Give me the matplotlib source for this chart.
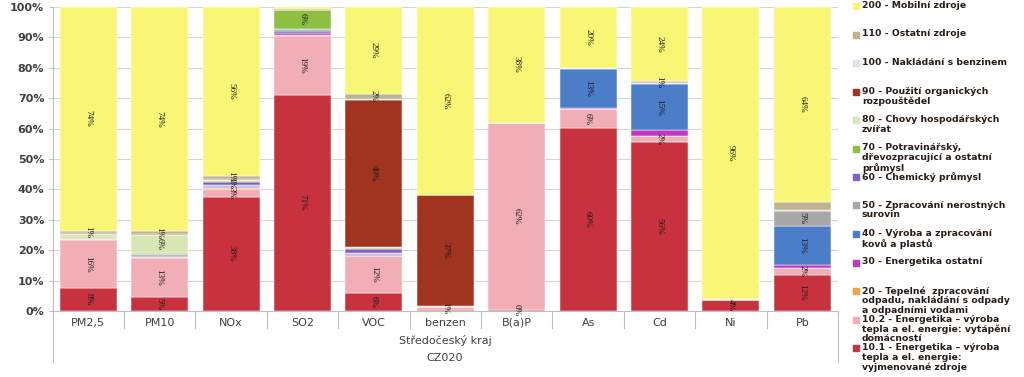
import numpy as np
import matplotlib
matplotlib.use("Agg")
import matplotlib.pyplot as plt
from matplotlib.lines import Line2D
from matplotlib.patches import Rectangle
import matplotlib.transforms as mtransforms

categories = ["PM2,5", "PM10", "NOx", "SO2", "VOC", "benzen", "B(a)P", "As", "Cd", "Ni", "Pb"]

series_names = [
    "10.1 - Energetika – výroba\ntepla a el. energie:\nvyjmenované zdroje",
    "10.2 - Energetika – výroba\ntepla a el. energie: vytápění\ndomácností",
    "20 - Tepelné  zpracování\nodpadu, nakládání s odpady\na odpadními vodami",
    "30 - Energetika ostatní",
    "40 - Výroba a zpracování\nkovů a plastů",
    "50 - Zpracování nerostných\nsurovin",
    "60 - Chemický průmysl",
    "70 - Potravinářský,\ndřevozpracující a ostatní\nprůmysl",
    "80 - Chovy hospodářských\nzvířat",
    "90 - Použití organických\nrozpouštědel",
    "100 - Nakládání s benzinem",
    "110 - Ostatní zdroje",
    "200 - Mobilní zdroje",
]

s_10_1 = [7.6, 4.6, 37.6, 71.2, 6.0, 0.3, 0.3, 60.2, 55.7, 3.6, 12.0]
s_10_2 = [15.8, 13.0, 2.6, 19.4, 12.0, 1.0, 61.5, 6.2, 1.8, 0.1, 2.0]
s_20 = [0.2, 0.2, 0.2, 0.1, 0.2, 0.0, 0.0, 0.1, 0.1, 0.0, 0.1]
s_30 = [0.1, 0.1, 0.5, 0.8, 0.2, 0.1, 0.0, 0.3, 1.8, 0.0, 1.0]
s_40 = [0.1, 0.2, 0.3, 0.7, 0.5, 0.1, 0.0, 12.9, 15.4, 0.1, 12.9]
s_50 = [0.3, 0.6, 0.3, 0.4, 0.3, 0.0, 0.0, 0.1, 0.2, 0.0, 5.0]
s_60 = [0.1, 0.1, 0.8, 0.3, 1.3, 0.0, 0.0, 0.0, 0.0, 0.0, 0.1]
s_70 = [0.2, 0.2, 0.3, 6.0, 0.3, 0.0, 0.1, 0.0, 0.1, 0.0, 0.1]
s_80 = [0.8, 6.0, 0.5, 0.1, 0.2, 0.0, 0.0, 0.0, 0.0, 0.0, 0.0]
s_90 = [0.5, 0.3, 0.3, 0.2, 48.5, 36.6, 0.1, 0.1, 0.1, 0.0, 0.1]
s_100 = [0.1, 0.1, 0.1, 0.0, 0.3, 0.0, 0.0, 0.0, 0.0, 0.0, 0.0]
s_110 = [0.6, 0.8, 1.0, 0.3, 1.6, 0.0, 0.0, 0.0, 0.5, 0.0, 2.7]
s_200 = [73.7, 73.9, 55.5, 0.5, 28.6, 61.9, 38.0, 20.1, 24.3, 96.2, 64.0]

series_values = [s_10_1, s_10_2, s_20, s_30, s_40, s_50, s_60, s_70, s_80, s_90, s_100, s_110, s_200]

colors = ["#C8323F", "#F1AEB6", "#F4A444", "#C236C2", "#4B7DC8", "#A7A7A7", "#7B62C4",
          "#8DC040", "#D7E7B3", "#A0341F", "#DCE3EF", "#BDB38D", "#F8F674"]

# (category index, series index) pairs whose value labels are shown
labeled = [
    (0, 0), (0, 1), (0, 11), (0, 12),
    (1, 0), (1, 1), (1, 8), (1, 11), (1, 12),
    (2, 0), (2, 1), (2, 6), (2, 11), (2, 12),
    (3, 0), (3, 1), (3, 7),
    (4, 0), (4, 1), (4, 9), (4, 11), (4, 12),
    (5, 1), (5, 9), (5, 12),
    (6, 0), (6, 1), (6, 12),
    (7, 0), (7, 1), (7, 4), (7, 12),
    (8, 0), (8, 1), (8, 4), (8, 11), (8, 12),
    (9, 0), (9, 12),
    (10, 0), (10, 1), (10, 4), (10, 5), (10, 12),
]

W, H = 1024, 377
fig = plt.figure(figsize=(W / 100, H / 100), dpi=100)
ax = fig.add_axes([52.6 / W, 1 - 311 / H, (838 - 52.6) / W, (311 - 7) / H])

vals = np.array(series_values, dtype=float)
vals = vals / vals.sum(axis=0) * 100.0
x = np.arange(len(categories))
bottom = np.zeros(len(categories))
tops = []
for i, (v, c) in enumerate(zip(vals, colors)):
    ax.bar(x, v, bottom=bottom, width=0.8, color=c, edgecolor="white", linewidth=0.35, zorder=2)
    tops.append(bottom.copy())
    bottom = bottom + v

for (ci, si) in labeled:
    v = vals[si][ci]
    yc = tops[si][ci] + v / 2
    txt = "%d%%" % int(np.floor(v + 0.5))
    ax.text(x[ci], yc, txt, rotation=270, ha="center", va="center",
            fontsize=6.6, family="Liberation Serif", color="#1a1a1a", zorder=3)

ax.set_xlim(-0.5, len(categories) - 0.5)
ax.set_ylim(0, 100)
ax.set_yticks(np.arange(0, 101, 10))
ax.set_yticklabels(["%d%%" % t for t in range(0, 101, 10)], fontsize=8, fontweight="bold",
                   color="#404040", family="DejaVu Sans")
ax.yaxis.grid(True, color="#d4d4d4", linewidth=0.8, zorder=0)
ax.set_axisbelow(True)
ax.tick_params(axis="y", length=3, color="#bfbfbf", pad=3)
ax.set_xticks(x)
ax.set_xticklabels(categories, fontsize=8, color="#404040", family="DejaVu Sans")
ax.tick_params(axis="x", length=0, pad=5)
for s in ["top", "right"]:
    ax.spines[s].set_visible(False)
ax.spines["left"].set_color("#bfbfbf")
ax.spines["bottom"].set_color("#bfbfbf")

# category separators and extended outer borders
ph = 311 - 7
trans = mtransforms.blended_transform_factory(ax.transData, ax.transAxes)
for b in np.arange(0.5, len(categories) - 1, 1.0):
    ax.add_line(Line2D([b, b], [0, -17 / ph], transform=trans, color="#bfbfbf", lw=0.8, clip_on=False))
for b in [-0.5, len(categories) - 0.5]:
    ax.add_line(Line2D([b, b], [0, -51 / ph], transform=trans, color="#bfbfbf", lw=0.8, clip_on=False))

fig.text(445 / W, 1 - 340 / H, "Středočeský kraj", ha="center", va="center", fontsize=8,
         color="#404040", family="DejaVu Sans")
fig.text(445 / W, 1 - 358 / H, "CZ020", ha="center", va="center", fontsize=8,
         color="#404040", family="DejaVu Sans")

# legend (top entry = last series)
slot0, slot_step = 6.0, 28.5
for k, si in enumerate(range(len(series_names) - 1, -1, -1)):
    yc = slot0 + k * slot_step
    fig.patches.append(Rectangle((853 / W, 1 - (yc + 3) / H), 6 / W, 6 / H,
                                 transform=fig.transFigure, color=colors[si], figure=fig))
    fig.text(862 / W, 1 - (yc - 5) / H, series_names[si], ha="left", va="top",
             fontsize=6.7, fontweight="bold", family="DejaVu Sans", color="#2a1d15", linespacing=1.08)

fig.savefig("out.png", dpi=100)
